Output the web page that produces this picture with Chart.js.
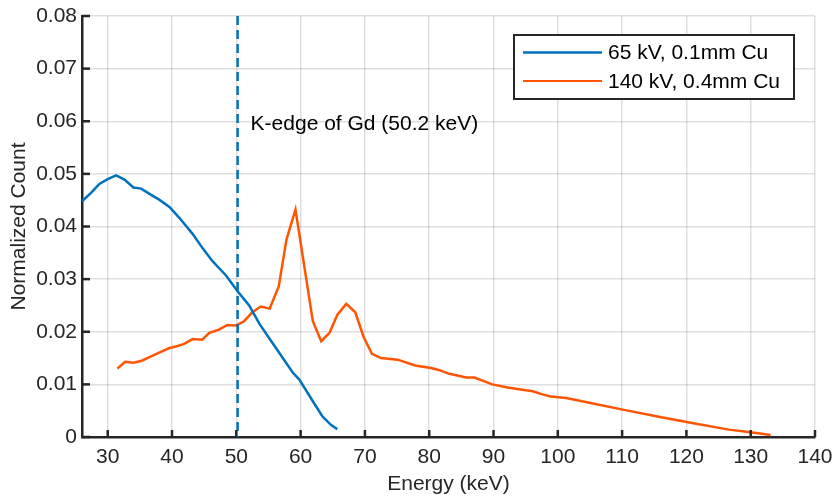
<!DOCTYPE html>
<html>
<head>
<meta charset="utf-8">
<script src="https://cdn.jsdelivr.net/npm/chart.js@4"></script>
<style>
  html, body { margin: 0; padding: 0; background: #fff; }
  #wrap { width: 833px; height: 500px; position: relative; }
</style>
</head>
<body>
<div id="wrap"><canvas id="spectrum"></canvas></div>
<script>
// spectrum readings (energy in keV, normalized count)
const lowEnergy = [26, 27.4, 28.7, 30, 31.3, 32.6, 34, 35.2, 36.5, 38, 39.6, 41.1, 43.2, 44.8, 46.3, 48.4,
  50.2, 52, 53.6, 55.6, 58.8, 59.8, 61.9, 63.4, 64.7, 65.7];
const lowCount = [0.0448, 0.0464, 0.0481, 0.0490, 0.0497, 0.0489, 0.0474, 0.0472, 0.0462, 0.0451, 0.0437, 0.0417,
  0.0386, 0.0358, 0.0334, 0.0307, 0.0277, 0.0250, 0.0215, 0.0179, 0.0122, 0.0109, 0.0068, 0.0039, 0.0023, 0.0015];

const highEnergy = [31.5, 32.7, 34, 35.3, 36.5, 37.9, 39.6, 40.6, 41.9, 43.2, 44.7, 45.8, 47.3, 48.6, 50, 51.2,
  52.5, 53.8, 55.2, 56.6, 57.8, 59.2, 61.9, 63.2, 64.5, 65.7, 67.1, 68.5, 69.8, 71.1, 72.5, 75.1, 77.8, 80.3,
  81.6, 83.1, 84.4, 85.7, 87, 88.3, 89.8, 92.2, 94.5, 96.1, 97.6, 98.9, 101.3, 104.9, 110.1, 116.3, 121.5,
  126.6, 130, 133.1];
const highCount = [0.0130, 0.0143, 0.0141, 0.0145, 0.0152, 0.0160, 0.0169, 0.0172, 0.0177, 0.0186, 0.0185, 0.0198,
  0.0204, 0.0213, 0.0212, 0.0220, 0.0237, 0.0248, 0.0244, 0.0286, 0.0375, 0.0432, 0.0220, 0.0182, 0.0198, 0.0232,
  0.0253, 0.0237, 0.0190, 0.0158, 0.0150, 0.0147, 0.0136, 0.0131, 0.0127, 0.0120, 0.0117, 0.0113, 0.0113, 0.0107,
  0.0100, 0.0094, 0.0090, 0.0087, 0.0081, 0.0077, 0.0074, 0.0065, 0.0052, 0.0037, 0.0025, 0.0014, 0.0009, 0.0004];

const seriesLabels = ['65 kV, 0.1mm Cu', '140 kV, 0.4mm Cu'];
const xTickValues = [30, 40, 50, 60, 70, 80, 90, 100, 110, 120, 130, 140];
const yTickValues = [0, 0.01, 0.02, 0.03, 0.04, 0.05, 0.06, 0.07, 0.08];
const kEdge = 50.2;
const kEdgeLabel = 'K-edge of Gd (50.2 keV)';

const BLUE = '#0072bd';
const ORANGE = '#ff5500';
const INK = '#262626';
const FONT = "'Liberation Sans', Arial, sans-serif";
const FONT_SIZE = 21;

const toPoints = (xs, ys) => xs.map((x, i) => ({ x: x, y: ys[i] }));

// dashed k-edge marker, inward ticks, text label and legend box
const overlay = {
  id: 'overlay',
  afterDatasetsDraw(chart) {
    const { ctx, chartArea: a, scales: { x, y } } = chart;
    ctx.save();
    const ex = x.getPixelForValue(kEdge);
    ctx.strokeStyle = BLUE;
    ctx.lineWidth = 2.5;
    ctx.setLineDash([9, 5]);
    ctx.beginPath();
    ctx.moveTo(ex, a.top);
    ctx.lineTo(ex, a.bottom);
    ctx.stroke();
    ctx.setLineDash([]);

    ctx.strokeStyle = INK;
    ctx.lineWidth = 2.5;
    xTickValues.forEach(v => {
      const px = x.getPixelForValue(v);
      ctx.beginPath();
      ctx.moveTo(px, a.bottom);
      ctx.lineTo(px, a.bottom - 7);
      ctx.stroke();
    });
    yTickValues.forEach(v => {
      const py = y.getPixelForValue(v);
      ctx.beginPath();
      ctx.moveTo(a.left, py);
      ctx.lineTo(a.left + 8, py);
      ctx.stroke();
    });

    ctx.fillStyle = '#000';
    ctx.font = FONT_SIZE + 'px ' + FONT;
    ctx.textBaseline = 'middle';
    ctx.textAlign = 'left';
    ctx.fillText(kEdgeLabel, ex + 13, 124);
    ctx.restore();
  },
  afterDraw(chart) {
    const { ctx } = chart;
    const colors = [BLUE, ORANGE];
    const widths = [2.5, 2];
    ctx.save();
    ctx.fillStyle = '#fff';
    ctx.fillRect(514, 35, 280, 64);
    ctx.strokeStyle = INK;
    ctx.lineWidth = 2;
    ctx.strokeRect(514, 35, 280, 64);
    ctx.font = FONT_SIZE + 'px ' + FONT;
    ctx.textBaseline = 'middle';
    ctx.fillStyle = '#000';
    seriesLabels.forEach((label, i) => {
      const ry = 52.5 + i * 28.5;
      ctx.strokeStyle = colors[i];
      ctx.lineWidth = widths[i];
      ctx.beginPath();
      ctx.moveTo(523, ry);
      ctx.lineTo(602, ry);
      ctx.stroke();
      ctx.fillText(label, 608, ry + 1);
    });
    ctx.restore();
  }
};

const ctx = document.getElementById('spectrum').getContext('2d');

new Chart(ctx, {
  type: 'line',
  data: {
    datasets: [
      {
        label: seriesLabels[0],
        data: toPoints(lowEnergy, lowCount),
        borderColor: BLUE,
        borderWidth: 2.5,
        pointRadius: 0,
        tension: 0
      },
      {
        label: seriesLabels[1],
        data: toPoints(highEnergy, highCount),
        borderColor: ORANGE,
        borderWidth: 2.5,
        pointRadius: 0,
        tension: 0
      }
    ]
  },
  options: {
    responsive: true,
    maintainAspectRatio: false,
    animation: false,
    layout: { padding: { top: 16, right: 18, left: 0, bottom: 0 } },
    plugins: {
      legend: { display: false },
      tooltip: { enabled: false }
    },
    scales: {
      x: {
        type: 'linear',
        min: 26,
        max: 140,
        afterBuildTicks: s => { s.ticks = xTickValues.map(v => ({ value: v })); },
        afterFit: s => { s.height = 63; s.paddingLeft = 0; s.paddingRight = 0; },
        grid: { color: 'rgba(38,38,38,0.15)', lineWidth: 1.5, drawTicks: false },
        border: { color: INK, width: 2.5 },
        ticks: {
          color: INK,
          font: { family: FONT, size: FONT_SIZE },
          padding: 8,
          maxRotation: 0,
          callback: v => String(v)
        },
        title: {
          display: true,
          text: 'Energy (keV)',
          color: INK,
          font: { family: FONT, size: FONT_SIZE },
          padding: { top: 0, bottom: 3 }
        }
      },
      y: {
        min: 0,
        max: 0.08,
        afterBuildTicks: s => { s.ticks = yTickValues.map(v => ({ value: v })); },
        afterFit: s => { s.width = 82; s.paddingTop = 0; s.paddingBottom = 0; },
        grid: { color: 'rgba(38,38,38,0.15)', lineWidth: 1.5, drawTicks: false },
        border: { color: INK, width: 2.5 },
        ticks: {
          color: INK,
          font: { family: FONT, size: FONT_SIZE },
          padding: 5,
          callback: v => (v === 0 ? '0' : v.toFixed(2))
        },
        title: {
          display: true,
          text: 'Normalized Count',
          color: INK,
          font: { family: FONT, size: FONT_SIZE },
          padding: { top: 7, bottom: 0 }
        }
      }
    }
  },
  plugins: [overlay]
});
</script>
</body>
</html>
